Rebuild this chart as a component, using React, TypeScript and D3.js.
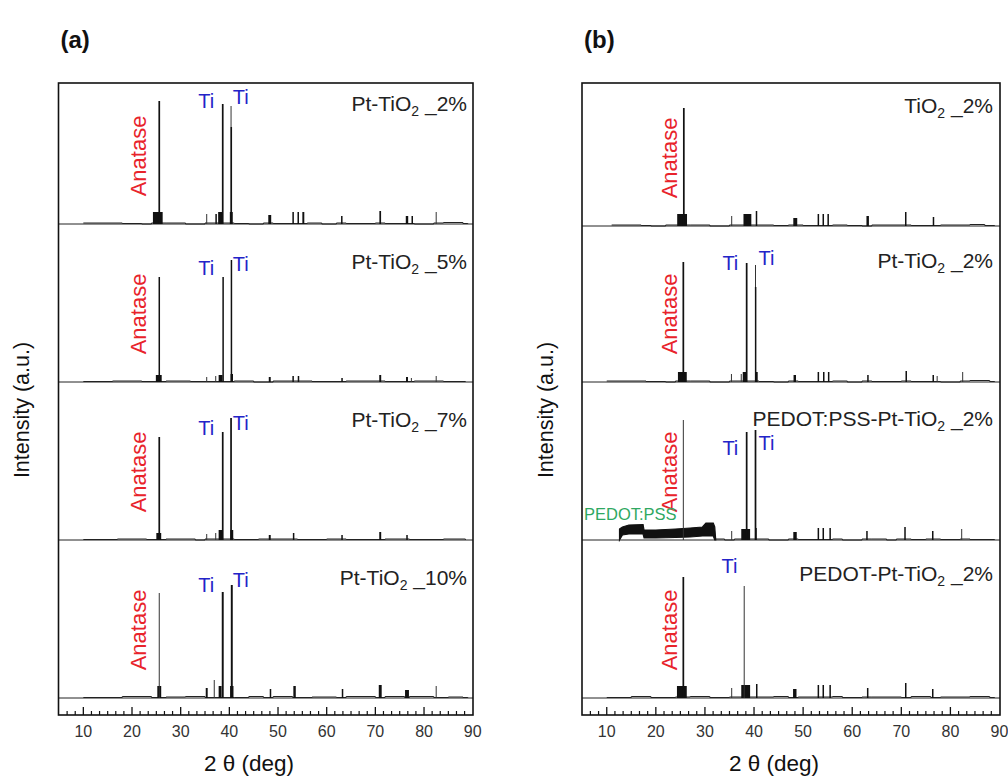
import React from 'react';
import * as d3 from 'd3';

// [2θ (deg), intensity (a.u.), width (deg)]
type Peak = [number, number, number];
// [2θ, background level]
type Step = [number, number];
// [2θ, lower, upper]
type Band = [number, number, number];

const xTickValues = [10, 20, 30, 40, 50, 60, 70, 80, 90];

// ---------- (a) ----------
const namesA = [
  ['Pt-TiO', '2', ' _2%'],
  ['Pt-TiO', '2', ' _5%'],
  ['Pt-TiO', '2', ' _7%'],
  ['Pt-TiO', '2', ' _10%'],
];

const peaksA1: Peak[] = [
  [25.3, 12, 2.0], [25.6, 123, 0.35], [35.35, 10, 0], [37.2, 10, 0.15], [38.1, 12, 0.8],
  [38.64, 120, 0.35], [40.35, 118, 0], [40.35, 97, 0.2], [40.4, 12, 0.6], [48.3, 9, 0.6],
  [53.1, 12, 0.3], [54.15, 12, 0.3], [55.2, 12, 0.4], [63.1, 8, 0.3], [71.0, 13, 0.35],
  [76.5, 8, 0.5], [77.5, 8, 0.15], [82.5, 12, 0],
];
const peaksA2: Peak[] = [
  [25.5, 7, 1.2], [25.6, 105, 0.3], [35.35, 5, 0], [37.2, 6, 0], [38.2, 7, 0.8],
  [38.64, 105, 0.15], [40.35, 122, 0.15], [40.5, 8, 0.5], [48.3, 5, 0.4], [53.1, 6, 0.3],
  [54.2, 6, 0.3], [63.1, 4, 0.2], [71.0, 7, 0.4], [76.5, 5, 0.4], [77.4, 4, 0], [82.5, 6, 0],
];
const peaksA3: Peak[] = [
  [25.5, 7, 1.0], [25.6, 103, 0.35], [35.35, 6, 0], [37.2, 7, 0], [38.2, 10, 0.8],
  [38.64, 108, 0.35], [40.35, 122, 0.35], [40.5, 10, 0.6], [48.3, 5, 0.4], [53.2, 7, 0.3],
  [63.1, 5, 0.2], [71.0, 8, 0.4], [76.5, 5, 0.3],
];
const peaksA4: Peak[] = [
  [25.6, 12, 0.8], [25.6, 105, 0], [35.35, 10, 0.4], [36.9, 18, 0], [38.1, 12, 0.6],
  [38.64, 106, 0.4], [40.5, 113, 0.4], [40.5, 12, 0.7], [48.4, 9, 0.2], [53.4, 12, 0.5],
  [63.2, 9, 0.2], [71.0, 13, 0.6], [76.5, 8, 0.8], [82.5, 12, 0],
];

const bgA1: Step[] = [[10, 1], [18, 0.5], [22, 0], [24, 1], [27, 1], [31, 0], [35, 1], [41, 0.5], [44, 0], [47, 1], [49, 0.5], [56, 1], [59, 0], [62, 1], [64, 0.5], [70, 1], [72, 0.5], [78, 0], [82, 1], [84, 1.5], [88, 0.5], [89, 0]];
const bgA2: Step[] = [[10, 0.5], [16, 1], [22, 0.5], [27, 1], [32, 0.5], [41, 1], [45, 0], [49, 1], [57, 0.5], [64, 1], [72, 0.5], [78, 1], [84, 0.5], [88.5, 0]];
const bgA3: Step[] = [[10, 0.5], [17, 1], [23, 0.5], [27, 1], [33, 0], [35, 1], [41, 0.5], [46, 1], [54, 0.5], [60, 1], [64, 0.5], [72, 1], [77, 0.5], [84, 1], [88.5, 0]];
const bgA4: Step[] = [[10, 0.5], [18, 1.5], [24, 0.5], [27, 1], [31, 1.5], [35, 0.5], [41, 0.5], [44, 1.5], [47, 0.5], [49, 1.5], [53, 0.5], [57, 1], [62, 0.5], [64, 1.5], [70, 0.5], [72, 1.5], [76, 0.5], [77, 1.5], [82, 0.5], [85, 1], [88, 0.5], [89, 0]];

const tiA: Step[][] = [
  [[36.9, 116], [40.7, 120]],
  [[36.9, 107], [40.7, 111]],
  [[36.9, 105], [40.7, 110]],
  [[36.9, 106], [40.7, 111]],
];

// ---------- (b) ----------
const namesB = [
  ['TiO', '2', ' _2%'],
  ['Pt-TiO', '2', ' _2%'],
  ['PEDOT:PSS-Pt-TiO', '2', ' _2%'],
  ['PEDOT-Pt-TiO', '2', ' _2%'],
];

const peaksB1: Peak[] = [
  [25.35, 12, 2.0], [25.7, 118, 0.35], [35.45, 10, 0], [38.65, 12, 1.6], [40.5, 15, 0.3],
  [48.4, 8, 0.8], [53.1, 12, 0.3], [54.1, 12, 0.3], [55.1, 12, 0.3], [63.15, 10, 0.5],
  [70.9, 14, 0.3], [76.5, 9, 0.2],
];
const peaksB2: Peak[] = [
  [25.4, 10, 1.8], [25.6, 120, 0.35], [35.4, 8, 0], [37.4, 8, 0], [38.1, 10, 0.8],
  [38.5, 119, 0.35], [40.3, 117, 0], [40.3, 95, 0.25], [40.5, 10, 0.5], [48.3, 7, 0.5],
  [53.1, 10, 0.3], [54.2, 10, 0.3], [55.2, 10, 0.3], [63.2, 7, 0.3], [71.0, 11, 0.3],
  [76.5, 7, 0.3], [77.3, 6, 0], [82.5, 10, 0],
];
const peaksB3: Peak[] = [
  [25.6, 120, 0], [35.45, 9, 0], [38.3, 11, 1.8], [38.5, 108, 0.35], [40.3, 110, 0.35],
  [40.4, 12, 0.3], [48.35, 8, 0.7], [53.1, 12, 0.3], [54.1, 12, 0.3], [55.5, 12, 0.3],
  [63.0, 9, 0.3], [70.75, 13, 0.3], [76.4, 9, 0.3], [82.3, 11, 0],
];
const peaksB4: Peak[] = [
  [25.3, 12, 2.0], [25.6, 121, 0.35], [35.45, 10, 0], [38.3, 13, 1.8], [38.0, 112, 0],
  [40.55, 14, 0.3], [48.3, 9, 0.7], [53.1, 13, 0.3], [54.1, 13, 0.3], [55.5, 13, 0.3],
  [63.15, 10, 0.3], [70.9, 15, 0.3], [76.4, 9, 0.3],
];

const bgB1: Step[] = [[11, 1], [17, 0.5], [19, 0], [22, 1], [27, 1], [31, 0], [35, 1], [41, 1], [44, 0.5], [47, 1], [50, 0.5], [56, 1], [59, 0.5], [62, 0], [64, 1], [72, 0.5], [78, 1], [84, 1.5], [87, 0.5], [89, 0]];
const bgB2: Step[] = [[10, 1], [18, 0.5], [22, 0], [24, 1], [27, 1], [31, 0], [35, 1], [41, 0.5], [44, 0], [47, 1], [49, 0.5], [56, 1], [59, 0], [62, 1], [64, 0.5], [70, 1], [72, 0.5], [78, 0], [82, 1], [84, 1.5], [88, 0.5], [89, 0]];
const bgB3: Step[] = [[32, 1], [34, 0], [36, 1], [41, 1], [43, 0], [47, 1], [49, 0.5], [56, 1], [58, 0], [62, 1], [64, 1], [67, 0], [69, 1], [72, 0.5], [75, 1], [78, 0.5], [82, 1], [84, 0.5], [89, 0]];
const bgB4: Step[] = [[10, 0.5], [15, 1.5], [19, 0.5], [24, 1], [27, 1.5], [31, 0.5], [35, 1], [41, 1], [44, 1.5], [47, 0.5], [49, 1], [56, 1.5], [58, 0.5], [62, 1], [64, 1], [70, 0.5], [72, 1.5], [76, 0.5], [78, 1], [84, 1.5], [88, 0.5], [89, 0]];

// broad PEDOT:PSS hump in the third trace of (b)
const pedotBand: Band[] = [
  [12.6, 0, 11], [13.2, 5, 13], [14.5, 6, 15], [17.4, 6, 15.5], [17.6, 2, 10], [20, 2, 10],
  [24, 2.5, 11], [27, 3, 12], [29.5, 4, 13], [30.2, 4, 17], [31.7, 4, 17], [32.0, 0, 13], [32.2, 0, 0],
];

const tiB: Step[][] = [
  [],
  [[36.8, 112], [40.9, 117]],
  [[36.8, 85], [40.9, 90]],
  [[36.6, 125]],
];

const FONT = 'Liberation Sans, Arial, Helvetica, sans-serif';
const TOP = 83;
const BOTTOM = 715;

type FigProps = {
  left: number;
  right: number;
  xLeft: number;
  xRight: number;
  baselines: number[];
  peaks: Peak[][];
  bgs: Step[][];
  names: string[][];
  ti: Step[][];
  tag: string;
  anataseX: number;
  labelRight: number;
  labelOffsets: number[];
  xLabelX: number;
  yLabelX: number;
  band?: Band[];
};

function Figure(p: FigProps) {
  const x = d3.scaleLinear().domain([5, 90]).range([p.xLeft, p.xRight]);
  const step = 10 / 6;
  const minor = d3.range(-2, 50)
    .map(i => 10 + i * step)
    .filter(v => v > 5.1 && v < 89.9 && Math.abs(v / 10 - Math.round(v / 10)) > 0.01);
  const stepLine = (y: d3.ScaleLinear<number, number>) =>
    d3.line<Step>().x(d => x(d[0])).y(d => y(d[1])).curve(d3.curveStepAfter);

  return (
    <g fontFamily={FONT}>
      <text x={p.left + 2} y={48} fontSize={24} fontWeight="bold" fill="#111">{p.tag}</text>

      {p.baselines.map((b, k) => {
        const y = d3.scaleLinear().domain([0, 100]).range([b, b - 100]);
        const area = d3.area<Band>().x(d => x(d[0])).y0(d => y(d[1])).y1(d => y(d[2]));
        return (
          <g key={k}>
            <line x1={p.left} x2={p.right} y1={b} y2={b} stroke="#222" strokeWidth={1} />
            <path d={stepLine(y)(p.bgs[k]) || ''} fill="none" stroke="#222" strokeWidth={1} />
            {k === 2 && p.band && (
              <path d={area(p.band) || ''} fill="#111" stroke="#111" strokeWidth={1.2} />
            )}
            {p.peaks[k].map(([t, h, w], i) =>
              w === 0 ? (
                <line key={i} x1={x(t)} x2={x(t)} y1={y(0)} y2={y(h)} stroke="#333" strokeWidth={1} />
              ) : (
                <rect key={i} x={x(t - w / 2)} width={Math.max(1.5, x(t + w / 2) - x(t - w / 2))}
                  y={y(h)} height={y(0) - y(h)} fill="#111" />
              )
            )}
            <text transform={`translate(${p.anataseX},${b - 68}) rotate(-90)`} textAnchor="middle"
              fontSize={22} fill="#e8232b">Anatase</text>
            {p.ti[k].map(([t, h], i) => (
              <text key={i} x={x(t)} y={y(h)} textAnchor={i === 0 ? 'end' : 'start'} fontSize={20} fill="#2323c8">Ti</text>
            ))}
            <text x={p.labelRight} y={b - p.labelOffsets[k]} textAnchor="end" fontSize={21} fill="#222">
              {p.names[k][0]}
              <tspan fontSize={14} dy={5}>{p.names[k][1]}</tspan>
              <tspan dy={-5}>{p.names[k][2]}</tspan>
            </text>
          </g>
        );
      })}

      {p.band && (
        <text x={p.left + 2} y={p.baselines[2] - 20} fontSize={16.5} fill="#2fa862">PEDOT:PSS</text>
      )}

      <rect x={p.left} y={TOP} width={p.right - p.left} height={BOTTOM - TOP} fill="none" stroke="#111" strokeWidth={1.6} />

      {xTickValues.map(v => (
        <g key={v}>
          {v < 90 && <line x1={x(v)} x2={x(v)} y1={BOTTOM} y2={BOTTOM - 8} stroke="#111" strokeWidth={1.3} />}
          <text x={x(v)} y={737} textAnchor="middle" fontSize={16} fill="#333">{v}</text>
        </g>
      ))}
      {minor.map((v, i) => (
        <line key={i} x1={x(v)} x2={x(v)} y1={BOTTOM} y2={BOTTOM - 4} stroke="#111" strokeWidth={1.2} />
      ))}

      <text x={p.xLabelX} y={771} textAnchor="middle" fontSize={22.5} fill="#111">2 θ (deg)</text>
      <text transform={`translate(${p.yLabelX},410) rotate(-90)`} textAnchor="middle" fontSize={21.5} fill="#111">
        Intensity (a.u.)
      </text>
    </g>
  );
}

export default function App() {
  return (
    <svg width={1008} height={778} style={{ position: 'absolute', left: 0, top: 0, background: '#fff' }}>
      <rect width={1008} height={778} fill="#fff" />
      <Figure
        left={58.5} right={473} xLeft={59} xRight={472.7}
        baselines={[224, 382, 540, 698]}
        peaks={[peaksA1, peaksA2, peaksA3, peaksA4]}
        bgs={[bgA1, bgA2, bgA3, bgA4]}
        names={namesA} ti={tiA} tag="(a)"
        anataseX={146} labelRight={467} labelOffsets={[113.5, 113.5, 113.5, 113.5]}
        xLabelX={249} yLabelX={29}
      />
      <Figure
        left={582} right={1000} xLeft={582.2} xRight={999.5}
        baselines={[226, 382, 540, 698]}
        peaks={[peaksB1, peaksB2, peaksB3, peaksB4]}
        bgs={[bgB1, bgB2, bgB3, bgB4]}
        names={namesB} ti={tiB} tag="(b)"
        anataseX={677} labelRight={993} labelOffsets={[113, 114, 114, 117]}
        xLabelX={774} yLabelX={553}
        band={pedotBand}
      />
    </svg>
  );
}
